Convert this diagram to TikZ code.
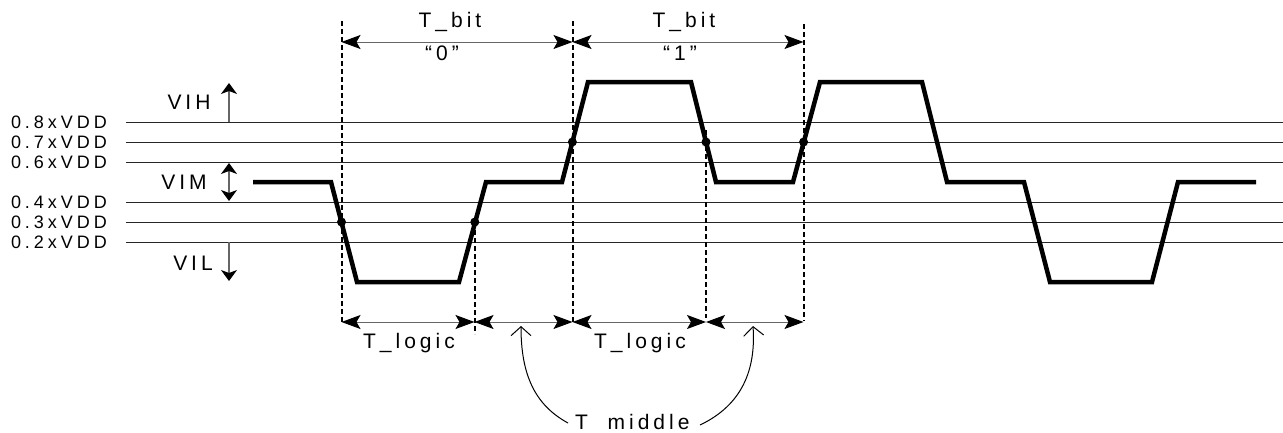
\documentclass[tikz,border=0pt]{standalone}
\usepackage{fontspec}
\setmainfont{Liberation Sans}[LetterSpace=19]
\usetikzlibrary{arrows.meta}
\tikzset{
  lvl/.style={line width=1pt, draw=black!85},
  wave/.style={line width=4.5pt, line join=miter},
  htip/.tip={Stealth[length=19pt,width=14pt,inset=4pt,color=black]},
  dimln/.style={line width=1pt, draw=black!60, htip-htip},
  vtip/.tip={Stealth[length=11pt,width=16pt,inset=3pt,color=black]},
  vdim/.style={line width=1.2pt, draw=black!60},
  dashv/.style={line width=2pt, dash pattern=on 5pt off 3pt},
  lbl/.style={font=\fontsize{21}{25}\selectfont, inner sep=0pt},
  vlbl/.style={font=\fontsize{18}{21}\selectfont\addfontfeature{LetterSpace=22}, inner sep=0pt, anchor=east},
  dotp/.style={fill=black, draw=none},
  curv/.style={line width=1pt, -{Straight Barb[length=9pt,width=20pt]}},
}
\begin{document}
\begin{tikzpicture}[x=1pt,y=-1pt]
\path[use as bounding box] (0,0) rectangle (1283,432);

% level lines and labels
\foreach \yy/\tt/\nn in {122/0.8/l8,142/0.7/l7,162/0.6/l6,202/0.4/l4,222/0.3/l3,242/0.2/l2}{
  \coordinate (\nn a) at (126,\yy);
  \coordinate (\nn b) at (1283,\yy);
  \draw[lvl] (\nn a) -- (\nn b);
  \node[vlbl] (\nn t) at (107,\yy) {\tt xVDD};
}

% VIH / VIM / VIL
\node[lbl] (vih) at (189,102) {VIH};
\node[lbl] (vim) at (184,182) {VIM};
\node[lbl] (vil) at (193,263) {VIL};
\coordinate (vihA) at (229,122); \coordinate (vihB) at (229,83);
\coordinate (vimA) at (229,163); \coordinate (vimB) at (229,201);
\coordinate (vilA) at (229,242); \coordinate (vilB) at (229,281);
\draw[vdim,-vtip] (vihA) -- (vihB);
\draw[vdim,vtip-vtip] (vimA) -- (vimB);
\draw[vdim,-vtip] (vilA) -- (vilB);

% waveform
\draw[wave] (253,182) -- (331,182) -- (357,282) -- (459,282) -- (486,182) -- (562,182)
  -- (588,82) -- (691,82) -- (716,182) -- (793,182) -- (820,82) -- (922,82) -- (947,182)
  -- (1024,182) -- (1050,282) -- (1152,282) -- (1178,182) -- (1256,182);

% dashed verticals
\coordinate (d1t) at (341.5,21);  \coordinate (d1b) at (341.5,323);
\coordinate (d2t) at (474.5,222); \coordinate (d2b) at (474.5,334);
\coordinate (d3t) at (572.5,21);  \coordinate (d3b) at (572.5,323);
\coordinate (d4t) at (706,130);   \coordinate (d4b) at (706,318);
\coordinate (d5t) at (803.5,24);  \coordinate (d5b) at (803.5,321);
\foreach \i in {1,...,5}{\draw[dashv] (d\i t) -- (d\i b);}

% crossing dots
\fill[dotp] (341.5,222) circle (4.5);
\fill[dotp] (474.8,222) circle (4.5);
\fill[dotp] (572.4,142) circle (4.5);
\fill[dotp] (706,142) circle (4.5);
\fill[dotp] (803.6,142) circle (4.5);

% top dimension arrows
\coordinate (ta1) at (341.5,42); \coordinate (ta2) at (572.5,42); \coordinate (ta3) at (803.5,42);
\draw[dimln] (ta1) -- (ta2);
\draw[dimln] (ta2) -- (ta3);
\node[lbl] (tb1) at (450,22) {T\_bit};
\node[lbl] (q0) at (442,53) {“0”};
\node[lbl] (tb2) at (684,22) {T\_bit};
\node[lbl] (q1) at (680,53) {“1”};

% bottom dimension arrows
\coordinate (ba1) at (341.5,322); \coordinate (ba2) at (474.5,322); \coordinate (ba3) at (572.5,322);
\coordinate (ba4) at (706,322);   \coordinate (ba5) at (803.5,322);
\draw[dimln] (ba1) -- (ba2);
\draw[dimln] (ba2) -- (ba3);
\draw[dimln] (ba3) -- (ba4);
\draw[dimln] (ba4) -- (ba5);
\node[lbl] (tl1) at (409,343) {T\_logic};
\node[lbl] (tl2) at (640,343) {T\_logic};

% T_middle (its underscore falls below the picture's lower edge)
\begin{scope}
\clip (0,0) rectangle (1283,430.2);
\node[lbl, anchor=base west] (tm) at (575,429) {T\_middle};
\end{scope}
\coordinate (c1s) at (568,423); \coordinate (c1e) at (521,326);
\coordinate (c2s) at (700,425); \coordinate (c2e) at (753,326);
\draw[curv] (c1s) .. controls (535,405) and (521,375) .. (c1e);
\draw[curv] (c2s) .. controls (742,405) and (756,370) .. (c2e);
\end{tikzpicture}
\end{document}
